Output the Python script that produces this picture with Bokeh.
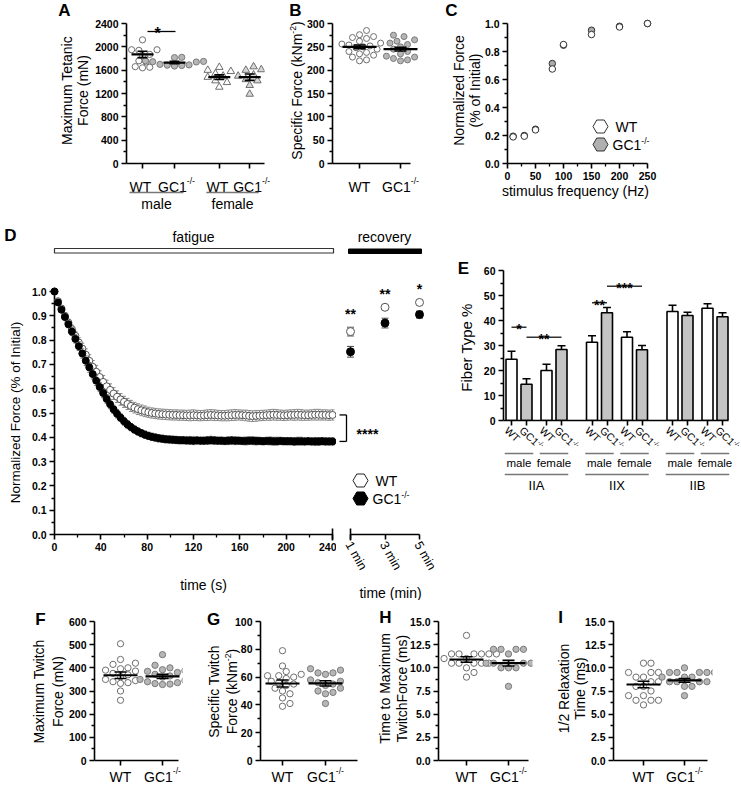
import math
from bokeh.plotting import figure
from bokeh.layouts import row, column
from bokeh.models import FixedTicker, Range1d, PrintfTickFormatter
from bokeh.core.properties import value
from bokeh.embed import file_html
from bokeh.resources import INLINE

FONT = "Liberation Sans"

# ======================= DATA =======================
# Panel A: maximum tetanic force (mN)
A_male_wt = [2120, 1950, 1950, 1940, 1870, 1850, 1760, 1740, 1660, 1650, 1640]
A_male_gc1 = [1820, 1815, 1760, 1750, 1745, 1740, 1700, 1690, 1685, 1680, 1670]
A_female_wt = [1650, 1600, 1580, 1540, 1500, 1480, 1420, 1390, 1310]
A_female_gc1 = [1660, 1610, 1600, 1520, 1500, 1440, 1420, 1340, 1190]
A_mean = [1870, 1730, 1480, 1480]
A_sem = [55, 20, 40, 55]
A_yticks = [0, 400, 800, 1200, 1600, 2000, 2400]

# Panel B: specific force (kNm-2)
B_wt = [285, 276, 272, 270, 268, 262, 258, 256, 254, 252, 250, 248, 245, 240, 238, 235, 232, 228, 222, 220]
B_gc1 = [275, 272, 265, 262, 258, 255, 250, 245, 240, 235, 230, 228, 225, 222, 220]
B_mean = [250, 245]
B_sem = [4, 4]
B_yticks = [0, 50, 100, 150, 200, 250, 300]

# Panel C: force-frequency
C_freq = [10, 30, 50, 80, 100, 150, 200, 250]
C_wt = [0.190, 0.195, 0.240, 0.675, 0.850, 0.921, 0.975, 1.000]
C_gc1 = [0.195, 0.200, 0.245, 0.714, 0.845, 0.952, 0.980, 1.000]
C_xticks = [0, 50, 100, 150, 200, 250]
C_yticks = [0.0, 0.2, 0.4, 0.6, 0.8, 1.0]

# Panel D: fatigue (every 3 s) and recovery
D_t = [0, 3, 6, 9, 12, 15, 18, 21, 24, 27, 30, 33, 36, 39, 42, 45, 48, 51, 54, 57,
       60, 63, 66, 69, 72, 75, 78, 81, 84, 87, 90, 93, 96, 99, 102, 105, 108, 111, 114, 117,
       120, 123, 126, 129, 132, 135, 138, 141, 144, 147, 150, 153, 156, 159, 162, 165, 168, 171, 174, 177,
       180, 183, 186, 189, 192, 195, 198, 201, 204, 207, 210, 213, 216, 219, 222, 225, 228, 231, 234, 237, 240]
D_wt = [1.000, 0.960, 0.930, 0.900, 0.872, 0.845, 0.818, 0.790, 0.765, 0.740,
        0.715, 0.690, 0.670, 0.648, 0.628, 0.610, 0.595, 0.580, 0.567, 0.556,
        0.546, 0.537, 0.529, 0.522, 0.516, 0.511, 0.507, 0.503, 0.500, 0.498,
        0.496, 0.495, 0.494, 0.493, 0.492, 0.492, 0.491,
        0.491, 0.490, 0.490, 0.491, 0.490, 0.489, 0.490, 0.491, 0.492, 0.491,
        0.490, 0.489, 0.489, 0.490, 0.491, 0.492, 0.492, 0.491, 0.490, 0.488,
        0.487, 0.488, 0.489, 0.490, 0.491, 0.492, 0.493, 0.492, 0.491, 0.490,
        0.491, 0.492, 0.492, 0.493, 0.492, 0.491, 0.491, 0.492, 0.493, 0.493,
        0.492, 0.492, 0.491, 0.492]
D_wt_sem = [0.000, 0.008, 0.010, 0.012, 0.014, 0.016, 0.018, 0.020,
            0.022, 0.024, 0.025, 0.026, 0.026, 0.026, 0.026, 0.025, 0.025, 0.024, 0.024, 0.024, 0.023,
            0.023, 0.023, 0.022, 0.022, 0.022, 0.022, 0.021, 0.021, 0.021, 0.021, 0.021, 0.021, 0.021, 0.021, 0.021, 0.021,
            0.021, 0.021, 0.022, 0.022, 0.021, 0.021, 0.021, 0.022, 0.022, 0.022,
            0.021, 0.021, 0.021, 0.022, 0.022, 0.022, 0.021, 0.021, 0.022, 0.022,
            0.022, 0.022, 0.021, 0.021, 0.021, 0.022, 0.022, 0.022, 0.021, 0.021,
            0.021, 0.021, 0.022, 0.022, 0.022, 0.021, 0.021, 0.021, 0.022, 0.022,
            0.021, 0.021, 0.021, 0.021]
D_gc1 = [1.000, 0.955, 0.925, 0.895, 0.865, 0.835, 0.805, 0.775, 0.745, 0.715,
         0.688, 0.660, 0.633, 0.607, 0.582, 0.558, 0.536, 0.515, 0.497, 0.481,
         0.466, 0.453, 0.442, 0.432, 0.424, 0.417, 0.411, 0.406, 0.402, 0.399,
         0.396, 0.394, 0.392, 0.391, 0.390, 0.389, 0.388,
         0.388, 0.387, 0.387, 0.386, 0.387, 0.386, 0.386, 0.387, 0.388, 0.387,
         0.386, 0.386, 0.385, 0.386, 0.387, 0.386, 0.386, 0.385, 0.385, 0.386,
         0.386, 0.385, 0.385, 0.384, 0.385, 0.385, 0.384, 0.384, 0.385, 0.384,
         0.384, 0.384, 0.383, 0.384, 0.384, 0.383, 0.384, 0.383, 0.383, 0.383,
         0.384, 0.383, 0.383, 0.383]
D_gc1_sem = [0.000, 0.008, 0.010, 0.012, 0.014, 0.016, 0.017, 0.018,
             0.019, 0.020, 0.020, 0.020, 0.020, 0.019, 0.019, 0.018, 0.018, 0.017, 0.017, 0.016, 0.016,
             0.016, 0.015, 0.015, 0.015, 0.015, 0.015, 0.015, 0.015, 0.015, 0.015, 0.015, 0.015, 0.015, 0.015, 0.015, 0.015,
             0.015, 0.015, 0.016, 0.016, 0.015, 0.015, 0.015, 0.016, 0.016, 0.016,
             0.015, 0.015, 0.015, 0.016, 0.016, 0.016, 0.015, 0.015, 0.016, 0.016,
             0.016, 0.016, 0.015, 0.015, 0.015, 0.016, 0.016, 0.016, 0.015, 0.015,
             0.015, 0.015, 0.016, 0.016, 0.016, 0.015, 0.015, 0.015, 0.016, 0.016,
             0.015, 0.015, 0.015, 0.015]
assert len(D_t) == len(D_wt) == len(D_wt_sem) == len(D_gc1) == len(D_gc1_sem) == 81
D_xticks = [0, 40, 80, 120, 160, 200, 240]
D_yticks = [0.0, 0.1, 0.2, 0.3, 0.4, 0.5, 0.6, 0.7, 0.8, 0.9, 1.0]
R_min = [1, 3, 5]
R_labels = ["1 min", "3 min", "5 min"]
R_wt = [0.835, 0.935, 0.955]
R_wt_sem = [0.018, 0.008, 0.008]
R_gc1 = [0.752, 0.870, 0.905]
R_gc1_sem = [0.022, 0.020, 0.014]
R_sig = ["**", "**", "*"]

# Panel E: fiber type %
E_fiber = ["IIA", "IIX", "IIB"]
E_male_wt = [24.5, 31.3, 43.6]
E_male_wt_sem = [3.2, 2.6, 2.5]
E_male_gc1 = [14.5, 43.1, 42.0]
E_male_gc1_sem = [2.2, 2.1, 1.3]
E_female_wt = [20.0, 33.3, 44.9]
E_female_wt_sem = [2.5, 2.2, 1.8]
E_female_gc1 = [28.4, 28.3, 41.5]
E_female_gc1_sem = [1.5, 1.7, 1.6]
E_yticks = [0, 10, 20, 30, 40, 50, 60]

# Panels F-I
F_wt = [504, 436, 420, 415, 400, 396, 390, 386, 376, 370, 362, 350, 345, 340, 336, 333, 300, 260]
F_gc1 = [457, 411, 400, 392, 388, 385, 380, 372, 365, 360, 350, 345, 340, 336, 332, 330, 328]
F_mean, F_sem = [368, 363], [14, 9]
F_yticks = [0, 100, 200, 300, 400, 500, 600]
G_wt = [79, 68, 64, 62, 61, 61, 60, 59, 57, 56, 55, 54, 52, 50, 48, 45, 41, 39]
G_gc1 = [66, 65, 63, 63, 62, 58, 57, 56, 55, 54, 52, 50, 49, 48, 41]
G_mean, G_sem = [55.4, 55.5], [2.5, 1.9]
G_yticks = [0, 20, 40, 60, 80, 100]
H_wt = [13.5, 11.5, 11.5, 11.5, 11.5, 11.5, 11.5, 11.0, 11.0, 10.5, 10.5, 10.5, 10.5, 10.5, 10.0, 9.5, 9.0]
H_gc1 = [12.0, 12.0, 12.0, 12.0, 11.5, 10.5, 10.5, 10.5, 10.5, 10.5, 10.0, 10.0, 10.0, 8.0]
H_mean, H_sem = [10.9, 10.5], [0.3, 0.3]
I_wt = [10.5, 10.5, 9.5, 9.5, 9.5, 9.0, 9.0, 8.5, 8.5, 8.0, 8.0, 7.5, 7.0, 7.0, 6.5, 6.5, 6.5, 6.0]
I_gc1 = [10.0, 9.5, 9.5, 9.5, 9.5, 9.5, 9.0, 9.0, 9.0, 8.5, 8.5, 8.5, 8.5, 8.0, 8.0, 7.0]
I_mean, I_sem = [8.2, 8.65], [0.35, 0.2]
HI_yticks = [0.0, 2.5, 5.0, 7.5, 10.0, 12.5, 15.0]

# ======================= HELPERS =======================
AW = {' ': 278, '(': 333, ')': 333, '-': 333, '/': 278, '%': 889, '.': 278,
      '0': 556, '1': 556, '2': 556, '3': 556, '4': 556, '5': 556, '6': 556, '7': 556, '8': 556, '9': 556,
      'A': 667, 'B': 667, 'C': 722, 'D': 722, 'E': 667, 'F': 611, 'G': 778, 'H': 722, 'I': 278,
      'M': 833, 'N': 722, 'R': 722, 'S': 667, 'T': 611, 'W': 944, 'X': 667,
      'a': 556, 'b': 556, 'c': 500, 'd': 556, 'e': 556, 'f': 278, 'g': 556, 'h': 556, 'i': 222,
      'k': 500, 'l': 222, 'm': 833, 'n': 556, 'o': 556, 'p': 556, 'q': 556, 'r': 333, 's': 500,
      't': 278, 'u': 556, 'v': 500, 'w': 722, 'x': 500, 'y': 500, 'z': 500}


def tw(s, fs):
    return sum(AW.get(c, 556) for c in s) / 1000.0 * fs


def mids(t):
    return [(a + b) / 2 for a, b in zip(t[:-1], t[1:])]


def swarm_offsets(vals, sy, d):
    step = d * 0.55
    idx = sorted(range(len(vals)), key=lambda i: vals[i])
    placed, offs = [], [0.0] * len(vals)
    cands = [0.0]
    for k in range(1, 40):
        cands += [k * step, -k * step]
    for i in idx:
        y = vals[i] * sy
        for c in cands:
            if all((c - px) ** 2 + (y - py) ** 2 >= d * d * 0.92 for px, py in placed):
                offs[i] = c
                placed.append((c, y))
                break
    return offs


class Panel:
    """A figure whose frame sits at given pixel positions of the 741x785 page."""

    def __init__(self, box, frame, xr, yr, yaxis=True):
        bx0, by0, bx1, by1 = box
        fx0, fy0, fx1, fy1 = frame
        self.fx0, self.fy0, self.fx1, self.fy1 = fx0, fy0, fx1, fy1
        self.xr, self.yr = xr, yr
        self.sx = (fx1 - fx0) / (xr[1] - xr[0])
        self.sy = (fy1 - fy0) / (yr[1] - yr[0])
        self.p = figure(frame_width=int(fx1 - fx0), frame_height=int(fy1 - fy0),
                        min_border_left=int(fx0 - bx0), min_border_right=int(bx1 - fx1),
                        min_border_top=int(fy0 - by0), min_border_bottom=int(by1 - fy1),
                        x_range=Range1d(*xr), y_range=Range1d(*yr),
                        output_backend="svg", toolbar_location=None, tools="",
                        y_axis_location="left" if yaxis else None,
                        outline_line_color=None, background_fill_color="white",
                        border_fill_color="white")
        self.p.grid.visible = False

    def X(self, px):
        return self.xr[0] + (px - self.fx0) / self.sx

    def Y(self, py):
        return self.yr[0] + (self.fy1 - py) / self.sy

    def PX(self, x):
        return self.fx0 + (x - self.xr[0]) * self.sx

    def PY(self, y):
        return self.fy1 - (y - self.yr[0]) * self.sy

    def style_axis(self, ax, ticks, minor=(), fmt=None, show=True, bounds=None, size=10.5, bold=True):
        ax.ticker = FixedTicker(ticks=list(ticks), minor_ticks=list(minor))
        ax.axis_line_width = 1.6
        ax.axis_line_color = "black"
        ax.major_tick_line_width = 1.6
        ax.major_tick_line_color = "black"
        ax.minor_tick_line_width = 1.3
        ax.minor_tick_line_color = "black"
        ax.major_tick_in = 0
        ax.major_tick_out = 5
        ax.minor_tick_in = 0
        ax.minor_tick_out = 3
        ax.major_label_text_font = FONT
        ax.major_label_text_font_style = "bold" if bold else "normal"
        ax.major_label_text_font_size = f"{size}px"
        ax.major_label_text_color = "black"
        ax.major_label_standoff = 3
        if fmt:
            ax.formatter = PrintfTickFormatter(format=fmt)
        if not show:
            ax.major_label_overrides = {t: "" for t in ticks}
        if bounds is not None:
            ax.bounds = bounds

    def text(self, s, px, py, size, bold=False, angle=0.0, align="center", baseline="middle", color="black"):
        self.p.text(x=[self.X(px)], y=[self.Y(py)], text=[s], text_font=value(FONT),
                    text_font_size=value(f"{size}px"),
                    text_font_style=value("bold" if bold else "normal"),
                    angle=angle, text_align=value(align), text_baseline=value(baseline),
                    text_color=color, level="overlay")

    def rich(self, pieces, px, py, size, angle=0.0, align="center", baseline="middle", color="black"):
        ss = size * 0.62
        widths = [tw(t, ss if sup else size) for t, sup in pieces]
        W = sum(widths)
        ca, sa = math.cos(angle), math.sin(angle)
        along = (ca, -sa)
        up = (-sa, -ca)
        d = -W / 2 if align == "center" else (0.0 if align == "left" else -W)
        rr = 0.36 if baseline == "alphabetic" else 0.24
        for (t, sup), w in zip(pieces, widths):
            r = size * rr if sup else 0.0
            x = px + d * along[0] + r * up[0]
            y = py + d * along[1] + r * up[1]
            self.text(t, x, y, ss if sup else size, angle=angle, align="left", baseline=baseline, color=color)
            d += w

    def gc1(self, px, py, size, angle=0.0, align="center", baseline="alphabetic"):
        self.rich([("GC1", False), ("-/-", True)], px, py, size, angle=angle, align=align, baseline=baseline)

    def star(self, s, cx, cy, size=14):
        self.text(s, cx, cy + 0.575 * size, size, bold=True, baseline="alphabetic")

    def seg_px(self, x0, y0, x1, y1, color="black", width=1.3):
        self.p.segment(x0=[self.X(x0)], y0=[self.Y(y0)], x1=[self.X(x1)], y1=[self.Y(y1)],
                       line_color=color, line_width=width, level="overlay")

    def swarm(self, vals, xc, marker="circle", fill="white", line="#707070", size=6.5, d=7.0):
        offs = swarm_offsets(vals, self.sy, d)
        xs = [xc + o / self.sx for o in offs]
        self.p.scatter(xs, vals, marker=marker, size=size, fill_color=fill, line_color=line, line_width=1)

    def mean_sem(self, xc, m, s, half_px=17, cap_px=12):
        hw = half_px / self.sx
        self.p.segment(x0=[xc], x1=[xc], y0=[m - s], y1=[m + s], line_color="black", line_width=1.6)
        self.p.scatter([xc, xc], [m - s, m + s], marker="dash", size=cap_px, line_color="black", line_width=1.6)
        self.p.segment(x0=[xc - hw], x1=[xc + hw], y0=[m], y1=[m], line_color="black", line_width=2.2)


def cat_panel(box, fx0, fx1, fy0, fy1, wt_px, gc_px, yr):
    sx = gc_px - wt_px
    x0 = 1 - (wt_px - fx0) / sx
    x1 = x0 + (fx1 - fx0) / sx
    return Panel(box, (fx0, fy0, fx1, fy1), (x0, x1), yr)


def top_extend(v_top, px_top, px_bottom, frame_top):
    """Range end so that v_top sits at px_top when the frame starts at frame_top."""
    return v_top * (px_bottom - frame_top) / (px_bottom - px_top)


WT_FILL, WT_LINE = "white", "#6e6e6e"
GC_FILL, GC_LINE = "#b6b6b6", "#7a7a7a"

# ---- page geometry (the page is 741 x 785, no body margin) ----
R1 = (0, 212)
R2 = (212, 600)
R3 = (600, 785)
F1_TOP, F1_BOT = 16, 163
F2_TOP = 228
F3_TOP, F3_BOT = 621, 760

# ======================= PANEL A =======================
A = Panel((0, R1[0], 270, R1[1]), (126, F1_TOP, 264, F1_BOT), (0.5, 0.5 + 138 / 32),
          (0, top_extend(2400, 23, F1_BOT, F1_TOP)))
A_pos = [1, 2, 3.4, 4.35]
A.style_axis(A.p.yaxis[0], A_yticks, mids(A_yticks), bounds=(0, 2400))
A.style_axis(A.p.xaxis[0], A_pos, show=False)
A.swarm(A_male_wt, A_pos[0], fill=WT_FILL, line=WT_LINE, size=6.2, d=6.6)
A.swarm(A_male_gc1, A_pos[1], fill=GC_FILL, line=GC_LINE, size=6.2, d=6.6)
A.swarm(A_female_wt, A_pos[2], marker="triangle", fill=WT_FILL, line=WT_LINE, size=7.5)
A.swarm(A_female_gc1, A_pos[3], marker="triangle", fill="#d8d8d8", line=WT_LINE, size=7.5)
for x, m, s in zip(A_pos, A_mean, A_sem):
    A.mean_sem(x, m, s, half_px=11, cap_px=10)
for i, x in enumerate(A_pos):
    px = A.PX(x)
    if i % 2 == 0:
        A.text("WT", px - 2, 186, 14, baseline="alphabetic")
    else:
        A.gc1(px + 2, 186, 14)
for j, sex in enumerate(["male", "female"]):
    l, r = A.PX(A_pos[2 * j]) - 13, A.PX(A_pos[2 * j + 1]) + 9
    A.seg_px(l, 192, r, 192, color="#777777", width=1.5)
    A.text(sex, (l + r) / 2, 203, 14)
A.seg_px(147, 31, 175, 31, width=1.3)
A.star("*", 157, 23.5, 16)
A.text("A", 64, 10, 17, bold=True)
A.text("Maximum Tetanic", 66, 90, 14, angle=math.pi / 2)
A.text("Force (mN)", 82, 90, 14, angle=math.pi / 2)

# ======================= PANEL B =======================
B = cat_panel((270, R1[0], 435, R1[1]), 332, 420, F1_TOP, F1_BOT, 359, 400,
              (0, top_extend(300, 23, F1_BOT, F1_TOP)))
B.style_axis(B.p.yaxis[0], B_yticks, mids(B_yticks), bounds=(0, 300))
B.style_axis(B.p.xaxis[0], [1, 2], show=False, bounds=(B.xr[0], B.X(410)))
B.swarm(B_wt, 1, fill=WT_FILL, line=WT_LINE, size=6.0, d=6.4)
B.swarm(B_gc1, 2, fill=GC_FILL, line=GC_LINE, size=6.0, d=6.4)
for k in range(2):
    B.mean_sem(k + 1, B_mean[k], B_sem[k], half_px=17)
B.text("WT", B.PX(1), 186, 14, baseline="alphabetic")
B.gc1(B.PX(2), 186, 14)
B.text("B", 295, 10, 17, bold=True)
B.rich([("Specific Force (kNm", False), ("-2", True), (")", False)], 296, 90, 14, angle=math.pi / 2)

# ======================= PANEL C =======================
C = Panel((435, R1[0], 741, R1[1]), (507, F1_TOP, 654, F1_BOT), (0, 147 / 0.56),
          (0, top_extend(1.0, 23, F1_BOT, F1_TOP)))
C.style_axis(C.p.xaxis[0], C_xticks, mids(C_xticks), bounds=(0, 250))
C.style_axis(C.p.yaxis[0], C_yticks, mids(C_yticks), fmt="%.1f", bounds=(0, 1))
C.p.scatter(C_freq, C_gc1, size=6.5, fill_color="#a9a9a9", line_color="#333333", line_width=1, level="overlay")
C.p.scatter(C_freq, C_wt, size=6.5, fill_color="white", line_color="#333333", line_width=1, level="overlay")
C.p.scatter([C.X(600)], [C.Y(126)], marker="hex", size=15, fill_color="white", line_color="#333333", line_width=1)
C.p.scatter([C.X(600)], [C.Y(144)], marker="hex", size=15, fill_color="#b0b0b0", line_color="#333333", line_width=1)
C.text("WT", 615, 126, 14, align="left")
C.gc1(612, 144, 14, align="left", baseline="middle")
C.text("stimulus frequency (Hz)", 575, 190, 14)
C.text("C", 451, 10, 17, bold=True)
C.text("Normalized Force", 458, 90, 14, angle=math.pi / 2)
C.text("(% of Initial)", 474, 90, 14, angle=math.pi / 2)

# ======================= PANEL D (fatigue) =======================
D_YR = (0, 306 / 243)
D1 = Panel((0, R2[0], 336, R2[1]), (54, F2_TOP, 332, 534), (0, 240), D_YR)
D1.style_axis(D1.p.xaxis[0], D_xticks, mids(D_xticks))
D1.style_axis(D1.p.yaxis[0], D_yticks, mids(D_yticks), fmt="%.1f", bounds=(0, 1))


def draw_series(P, t, v, e, fill, line, ecolor, size, cap=4):
    lo = [a - b for a, b in zip(v, e)]
    hi = [a + b for a, b in zip(v, e)]
    P.p.segment(x0=t, x1=t, y0=lo, y1=hi, line_color=ecolor, line_width=1, level="overlay")
    P.p.scatter(t, hi, marker="dash", size=cap, line_color=ecolor, line_width=1, level="overlay")
    P.p.scatter(t, lo, marker="dash", size=cap, line_color=ecolor, line_width=1, level="overlay")
    P.p.scatter(t, v, marker="circle", size=size, fill_color=fill, line_color=line, line_width=1, level="overlay")


draw_series(D1, D_t, D_wt, D_wt_sem, "white", "#555555", "#8a8a8a", 7)
draw_series(D1, D_t, D_gc1, D_gc1_sem, "black", "black", "#6a6a6a", 7)
D1.p.quad(left=[0], right=[D1.X(333)], top=[D1.Y(248)], bottom=[D1.Y(252.5)],
          fill_color="white", line_color="#333333", line_width=1.2, level="overlay")
D1.p.segment(x0=[240], x1=[240], y0=[D1.Y(528)], y1=[D1.Y(540)], line_color="black", line_width=1.6, level="overlay")
D1.text("fatigue", 193, 236, 14)
D1.text("D", 10, 235, 17, bold=True)
D1.text("Normalized Force (% of Initial)", 15, 412, 13.5, angle=math.pi / 2)
D1.text("time (s)", 203, 584, 14)

# ======================= PANEL D (recovery) =======================
r0 = 1 - 14 / 17.25
D2 = Panel((336, R2[0], 442, R2[1]), (336, F2_TOP, 442, 534), (r0, r0 + 106 / 17.25), D_YR, yaxis=False)
D2.style_axis(D2.p.xaxis[0], R_min, show=False, bounds=(1, 5))
for m, lab in zip(R_min, R_labels):
    D2.text(lab, D2.PX(m) - 2, 542, 12.5, angle=-1.05, align="left")
draw_series(D2, R_min, R_wt, R_wt_sem, "white", "#555555", "#555555", 8, cap=7)
draw_series(D2, R_min, R_gc1, R_gc1_sem, "black", "black", "#444444", 8, cap=7)
D2.p.segment(x0=[1], x1=[1], y0=[D2.Y(528)], y1=[D2.Y(540)], line_color="black", line_width=1.6, level="overlay")
D2.p.quad(left=[D2.X(348)], right=[D2.X(421)], top=[D2.Y(248.5)], bottom=[D2.Y(253)],
          fill_color="black", line_color="black", level="overlay")
D2.text("recovery", 384, 236, 14)
for m, s, py in zip(R_min, R_sig, [305, 285, 280]):
    D2.star(s, D2.PX(m), py, 14)
bx0, bx1 = D2.X(339), D2.X(346)
D2.p.segment(x0=[bx0, bx1, bx0], x1=[bx1, bx1, bx1],
             y0=[D_wt[-1], D_wt[-1], D_gc1[-1]], y1=[D_wt[-1], D_gc1[-1], D_gc1[-1]],
             line_color="black", line_width=1.3, level="overlay")
D2.star("****", 367, 425, 14)
D2.p.scatter([D2.X(360)], [D2.Y(480)], marker="hex", size=15, fill_color="white", line_color="#222222", line_width=1)
D2.p.scatter([D2.X(360)], [D2.Y(498)], marker="hex", size=15, fill_color="black", line_color="black", line_width=1)
D2.text("WT", 375, 480, 14, align="left")
D2.gc1(372, 498, 14, align="left", baseline="middle")
D2.text("time (min)", 390, 592, 14)

# ======================= PANEL E =======================
E = Panel((442, R2[0], 741, R2[1]), (503, F2_TOP, 730, 420), (1 - 8 / 15, 1 - 8 / 15 + 227 / 15),
          (0, top_extend(60, 270, 420, F2_TOP)))
E_GROUP_STEP = 80.5 / 15
E_SEX_STEP = 35 / 15


def e_pos(g, s, k):
    return 1 + g * E_GROUP_STEP + s * E_SEX_STEP + k


E_vals = [[E_male_wt, E_male_gc1], [E_female_wt, E_female_gc1]]
E_sems = [[E_male_wt_sem, E_male_gc1_sem], [E_female_wt_sem, E_female_gc1_sem]]
E_ticks = [e_pos(g, s, k) for g in range(3) for s in range(2) for k in range(2)]
E.style_axis(E.p.yaxis[0], E_yticks, mids(E_yticks), bounds=(0, 60))
E.style_axis(E.p.xaxis[0], E_ticks, show=False, bounds=(E.xr[0], E.X(728)))
for k, fill in enumerate(["white", "#c4c4c4"]):
    xs, tops, sems = [], [], []
    for g in range(3):
        for s in range(2):
            xs.append(e_pos(g, s, k))
            tops.append(E_vals[s][k][g])
            sems.append(E_sems[s][k][g])
    E.p.segment(x0=xs, x1=xs, y0=tops, y1=[a + b for a, b in zip(tops, sems)], line_color="black", line_width=1.6)
    E.p.scatter(xs, [a + b for a, b in zip(tops, sems)], marker="dash", size=8, line_color="black", line_width=1.6)
    E.p.vbar(x=xs, top=tops, bottom=0, width=11 / 15, fill_color=fill, line_color="black", line_width=1.6)
E_sig_from = [(0, 0, 0), (0, 0, 1), (1, 0, 0), (1, 0, 1)]
E_sig_to = [(0, 0, 1), (0, 1, 1), (1, 0, 1), (1, 1, 1)]
E_sig_y = [37.3, 33.3, 47.1, 53.7]
E_sig_txt = ["*", "**", "**", "***"]
for a, b, yv, s in zip(E_sig_from, E_sig_to, E_sig_y, E_sig_txt):
    xa, xb = e_pos(*a), e_pos(*b)
    E.p.segment(x0=[xa], x1=[xb], y0=[yv], y1=[yv], line_color="#333333", line_width=1.3)
    E.star(s, (E.PX(xa) + E.PX(xb)) / 2, E.PY(yv) - 6, 14)
ang = -0.75
for g in range(3):
    for s in range(2):
        for k in range(2):
            px = E.PX(e_pos(g, s, k))
            if k == 0:
                E.text("WT", px - 5, 428, 10.5, angle=ang, align="left")
            else:
                E.gc1(px - 5, 428, 10.5, angle=ang, align="left", baseline="middle")
        l, r = E.PX(e_pos(g, s, 0) - 0.45), E.PX(e_pos(g, s, 1) + 0.45)
        E.seg_px(l, 453, r, 453, color="#777777", width=1.5)
        E.text(["male", "female"][s], (l + r) / 2, 462, 11.5)
    l, r = E.PX(e_pos(g, 0, 0) - 0.45), E.PX(e_pos(g, 1, 1) + 0.45)
    E.seg_px(l, 474, r, 474, color="#777777", width=1.5)
    E.text(E_fiber[g], (l + r) / 2, 485, 13)
E.text("E", 463, 268, 17, bold=True)
E.text("Fiber Type %", 466, 347, 15, angle=math.pi / 2)

# ======================= PANELS F - I =======================
F = cat_panel((0, R3[0], 195, R3[1]), 94, 182, F3_TOP, F3_BOT, 120, 162, (0, 600))
G = cat_panel((195, R3[0], 372, R3[1]), 260, 362, F3_TOP, F3_BOT, 282, 325, (0, 100))
H = cat_panel((372, R3[0], 550, R3[1]), 438, 532, F3_TOP, F3_BOT, 466, 508, (0, 15))
I = cat_panel((550, R3[0], 741, R3[1]), 613, 712, F3_TOP, F3_BOT, 643, 684, (0, 15))

specs = [
    (F, F_wt, F_gc1, F_mean, F_sem, F_yticks, None, 178, "F", (40, 619),
     [("Maximum Twitch", 38), ("Force (mN)", 57)], 691),
    (G, G_wt, G_gc1, G_mean, G_sem, G_yticks, None, 357, "G", (213, 619),
     [("Specific Twitch", 213), (None, 231)], 691),
    (H, H_wt, H_gc1, H_mean, H_sem, HI_yticks, "%.1f", 528, "H", (385, 617),
     [("Time to Maximum", 384), ("TwitchForce (ms)", 401)], 688),
    (I, I_wt, I_gc1, I_mean, I_sem, HI_yticks, "%.1f", 707, "I", (560, 617),
     [("1/2 Relaxation", 563), ("Time (ms)", 579)], 688),
]
for P, wt, gc, mn, se, yt, fmt, xend, letter, lpos, ylabs, ycen in specs:
    P.style_axis(P.p.yaxis[0], yt, mids(yt), fmt=fmt)
    P.style_axis(P.p.xaxis[0], [1, 2], show=False, bounds=(P.xr[0], P.X(xend)))
    P.swarm(wt, 1, fill=WT_FILL, line=WT_LINE, size=6.3, d=6.8)
    P.swarm(gc, 2, fill=GC_FILL, line=GC_LINE, size=6.3, d=6.8)
    for k in range(2):
        P.mean_sem(k + 1, mn[k], se[k], half_px=17)
    P.text("WT", P.PX(1), 776, 14, baseline="alphabetic")
    P.gc1(P.PX(2), 776, 14)
    P.text(letter, lpos[0], lpos[1], 17, bold=True)
    for txt, xpx in ylabs:
        if txt is None:
            P.rich([("Force (kNm", False), ("-2", True), (")", False)], xpx, ycen, 14, angle=math.pi / 2)
        else:
            P.text(txt, xpx, ycen, 14, angle=math.pi / 2)

layout = column(row(A.p, B.p, C.p), row(D1.p, D2.p, E.p), row(F.p, G.p, H.p, I.p))
open("out.html", "w").write(file_html(layout, INLINE, title="Muscle function"))
